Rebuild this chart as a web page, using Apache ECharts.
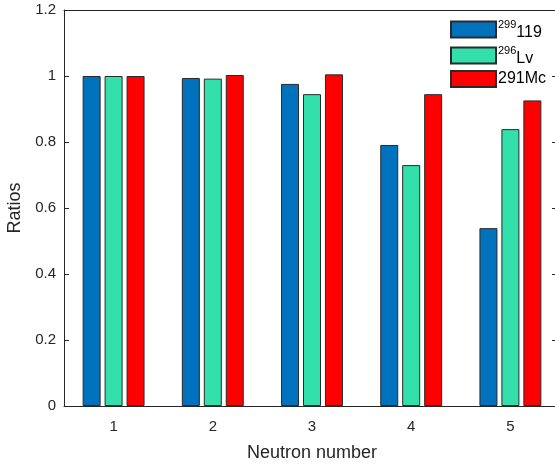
<!DOCTYPE html>
<html>
<head>
<meta charset="utf-8">
<script src="https://cdn.jsdelivr.net/npm/echarts@6/dist/echarts.min.js"></script>
<style>html,body{margin:0;padding:0;background:#fff;overflow:hidden}#c{width:555px;height:464px}</style>
</head>
<body>
<div id="c"></div>
<script>
const categories = ['1', '2', '3', '4', '5'];
const seriesNames = ['299119', '296Lv', '291Mc'];
const values119 = [1.000, 0.994, 0.976, 0.791, 0.539];
const valuesLv = [1.000, 0.992, 0.945, 0.730, 0.839];
const valuesMc = [1.000, 1.003, 1.005, 0.945, 0.926];
const yTicks = [0, 0.2, 0.4, 0.6, 0.8, 1, 1.2];
const colors = ['#0072BD', '#33DFAA', '#FF0000'];

const font = 'Liberation Sans, Arial, Helvetica, sans-serif';
const axisColor = '#262626';
const chart = echarts.init(document.getElementById('c'));

const legendRich = {
  sup: { fontSize: 11, fontFamily: font, color: '#000', verticalAlign: 'top', lineHeight: 20, padding: [0, 0, 6, 0] },
  b: { fontSize: 16, fontFamily: font, color: '#000', lineHeight: 20, padding: [7, 0, 0, 0] },
  n: { fontSize: 16, fontFamily: font, color: '#000', lineHeight: 20 }
};

function mk(name, data, color) {
  return {
    name: name, type: 'bar', data: data,
    barWidth: 18, barGap: '22%',
    itemStyle: { color: color, borderColor: '#2a2a2a', borderWidth: 1 }
  };
}

chart.setOption({
  animation: false,
  backgroundColor: '#fff',
  textStyle: { fontFamily: font },
  grid: { left: 64, top: 10, width: 496, height: 396, outerBoundsMode: 'none', containLabel: false },
  legend: {
    orient: 'vertical', left: 445, top: 13,
    itemWidth: 45, itemHeight: 16, itemGap: 3,
    icon: 'rect',
    data: seriesNames,
    formatter: function (n) {
      if (n === '299119') return '{sup|299}{b|119}';
      if (n === '296Lv') return '{sup|296}{b|Lv}';
      return '{n|' + n + '}';
    },
    textStyle: { rich: legendRich, padding: [0, 0, 0, -3] }
  },
  xAxis: [{
    type: 'category', data: categories,
    name: 'Neutron number', nameLocation: 'middle', nameGap: 38,
    nameTextStyle: { fontSize: 18, color: axisColor, fontFamily: font },
    axisLine: { lineStyle: { color: axisColor, width: 1 } },
    axisTick: { inside: true, alignWithLabel: true, length: 5, lineStyle: { color: axisColor } },
    axisLabel: { fontSize: 15, color: axisColor, margin: 13, fontFamily: font },
    splitLine: { show: false }
  }, {
    type: 'category', data: categories, position: 'top',
    axisLine: { onZero: false, lineStyle: { color: axisColor, width: 1 } },
    axisTick: { inside: true, alignWithLabel: true, length: 5, lineStyle: { color: axisColor } },
    axisLabel: { show: false }
  }],
  yAxis: [{
    type: 'value', min: 0, max: 1.2, interval: 0.2,
    name: 'Ratios', nameLocation: 'middle', nameGap: 35,
    nameTextStyle: { fontSize: 18, color: axisColor, fontFamily: font },
    axisLine: { show: true, lineStyle: { color: axisColor, width: 1 } },
    axisTick: { show: true, inside: true, length: 5, lineStyle: { color: axisColor } },
    axisLabel: { fontSize: 15, color: axisColor, margin: 8, fontFamily: font,
      formatter: function (v) { return yTicks.indexOf(+v.toFixed(1)) >= 0 ? String(+v.toFixed(1)) : ''; } },
    splitLine: { show: false }
  }, {
    type: 'value', min: 0, max: 1.2, interval: 0.2, position: 'right',
    axisLine: { show: false, onZero: false },
    axisTick: { show: true, inside: true, length: 8, lineStyle: { color: axisColor } },
    axisLabel: { show: false },
    splitLine: { show: false }
  }],
  series: [
    mk(seriesNames[0], values119, colors[0]),
    mk(seriesNames[1], valuesLv, colors[1]),
    mk(seriesNames[2], valuesMc, colors[2])
  ]
});
</script>
</body>
</html>
